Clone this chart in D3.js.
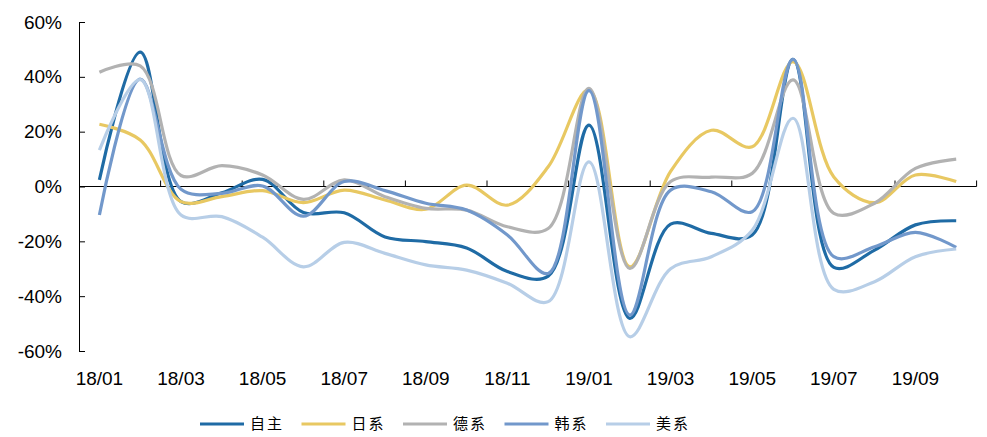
<!DOCTYPE html>
<html>
<head>
<meta charset="utf-8">
<script src="https://cdn.jsdelivr.net/npm/d3@7"></script>
<style>
  body { margin: 0; background: #fff; }
  svg { display: block; }
</style>
</head>
<body>
<div id="chart"></div>
<script>
const months = ["18/01","18/02","18/03","18/04","18/05","18/06","18/07","18/08","18/09","18/10","18/11",
    "18/12","19/01","19/02","19/03","19/04","19/05","19/06","19/07","19/08","19/09","19/10"];

const ziZhu = [2.4, 49, -5.5, -2.3, 2.6, -9.5, -9.6, -18.4, -20.1, -22.4, -31, -32.7,
    22.4, -48.1, -13.7, -17.1, -17.7, 46.4, -29.5, -23.2, -14, -12.5];
const riXi = [22.7, 17, -5.5, -3.7, -1.5, -5.9, -1.3, -4.9, -8.3, 0.5, -6.8, 7.2,
    35.3, -29.3, 5.5, 20.5, 14.5, 45.5, 3.5, -5.9, 4.2, 1.8];
const deXi = [41.7, 44, 4, 7.6, 4.2, -4.7, 2.4, -3.7, -8, -8.6, -14.7, -15.3,
    35.8, -29.9, 1.8, 3.4, 4.8, 38.9, -9.8, -6.1, 6.6, 10];
const hanXi = [-10.4, 39.2, -1, -2.5, 0.2, -10.8, 1.8, -1.5, -6.1, -8.6, -17.7, -31.7,
    35, -46.9, -1.3, -1.9, -9.2, 46.4, -25.6, -22, -16.7, -22.2];
const meiXi = [13.3, 39, -10.4, -11, -18.5, -29.3, -20.4, -24.4, -28.6, -30.5, -35.3, -42,
    9, -54.8, -30, -25.6, -16, 24.9, -37.5, -34.7, -25.6, -22.8];

const seriesNames = ["自主", "日系", "德系", "韩系", "美系"];
const seriesColors = ["#1f6ba5", "#e8c862", "#b2b2b2", "#7298cb", "#b7cee7"];
const yTicks = [-60, -40, -20, 0, 20, 40, 60];

const series = [ziZhu, riXi, deXi, hanXi, meiXi].map((vals, k) => ({
    name: seriesNames[k],
    color: seriesColors[k],
    values: vals.map((v, i) => ({ month: months[i], value: v }))
}));

const W = 987, H = 437;
const margin = { top: 22, right: 10, bottom: 86, left: 79 };

const svg = d3.select("#chart")
    .append("svg")
    .attr("width", W)
    .attr("height", H);

const x = d3.scaleBand()
    .domain(months)
    .range([margin.left, 976.6])
    .padding(0);

const y = d3.scaleLinear()
    .domain([-60, 60])
    .range([H - margin.bottom, margin.top]);

const cx = m => x(m) + x.bandwidth() / 2;

// y axis (ticks inside, labels on the left)
const yAxis = svg.append("g")
    .attr("transform", `translate(${margin.left},0)`)
    .call(d3.axisLeft(y)
        .tickValues(yTicks)
        .tickSizeInner(-6)
        .tickSizeOuter(0)
        .tickPadding(17)
        .tickFormat(d => d + "%"));
yAxis.selectAll("text")
    .style("font-family", "'Liberation Sans', Arial, sans-serif")
    .style("font-size", "19px")
    .attr("fill", "#000");
yAxis.selectAll("line, path").attr("stroke", "#000");

// x axis line at zero, tick marks at every second category boundary
const xAxisG = svg.append("g");
xAxisG.append("line")
    .attr("x1", x.range()[0])
    .attr("x2", x.range()[1])
    .attr("y1", y(0))
    .attr("y2", y(0))
    .attr("stroke", "#000");

const tickPos = months.filter((m, i) => i > 0 && i % 2 === 0).map(m => x(m)).concat([x.range()[1]]);
xAxisG.selectAll(".xtick")
    .data(tickPos)
    .join("line")
    .attr("x1", d => d)
    .attr("x2", d => d)
    .attr("y1", y(0))
    .attr("y2", y(0) - 6)
    .attr("stroke", "#000");

svg.append("g")
    .selectAll("text")
    .data(months.filter((m, i) => i % 2 === 0))
    .join("text")
    .attr("x", d => cx(d))
    .attr("y", y(-60) + 34)
    .attr("text-anchor", "middle")
    .style("font-family", "'Liberation Sans', Arial, sans-serif")
    .style("font-size", "19px")
    .text(d => d);

// lines
const line = d3.line()
    .x(d => cx(d.month))
    .y(d => y(d.value))
    .curve(d3.curveCatmullRom.alpha(0.5));

svg.append("g")
    .selectAll("path")
    .data(series)
    .join("path")
    .attr("fill", "none")
    .attr("stroke", d => d.color)
    .attr("stroke-width", 3.2)
    .attr("stroke-linejoin", "round")
    .attr("d", d => line(d.values));

// legend
const legend = svg.append("g")
    .attr("transform", `translate(200,${H - 13})`);
const item = legend.selectAll("g")
    .data(series)
    .join("g")
    .attr("transform", (d, i) => `translate(${i * 101.5},0)`);
item.append("line")
    .attr("x1", 0)
    .attr("x2", 44)
    .attr("stroke", d => d.color)
    .attr("stroke-width", 3.2);
item.append("text")
    .attr("x", 50)
    .attr("dy", "0.36em")
    .style("font-family", "'Noto Sans CJK SC', sans-serif")
    .style("font-size", "15px")
    .style("letter-spacing", "2px")
    .text(d => d.name);
</script>
</body>
</html>
